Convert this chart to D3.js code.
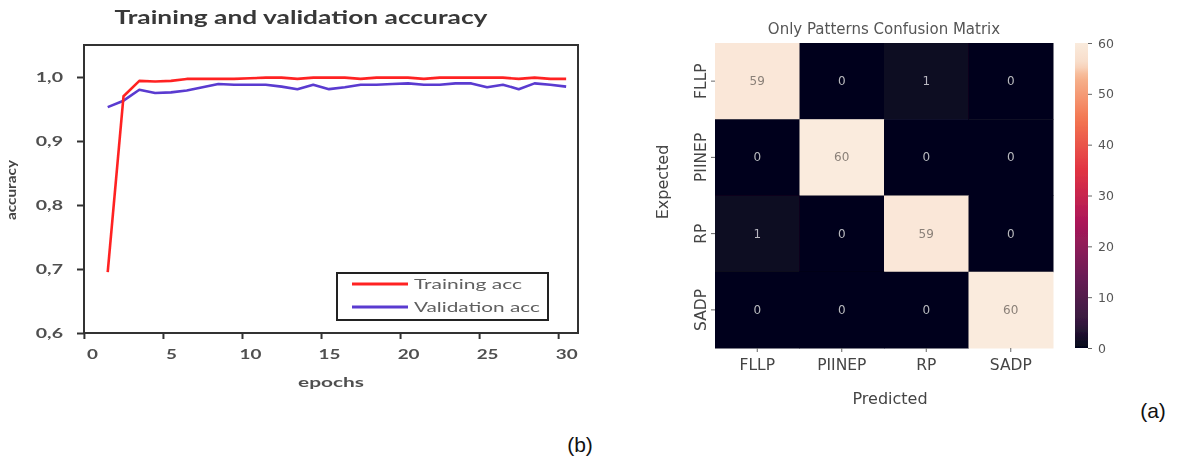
<!DOCTYPE html>
<html>
<head>
<meta charset="utf-8">
<script src="https://cdn.jsdelivr.net/npm/d3@7"></script>
<style>
  body { margin: 0; background: #fff; }
  svg { display: block; }
</style>
</head>
<body>
<svg id="chart" width="1177" height="463"></svg>
<script>
// ---- data: accuracy curves (panel b)
const epochs = d3.range(1, 31);
const trainAcc = [0.695, 0.970, 0.994, 0.993, 0.994, 0.997, 0.997, 0.997, 0.997, 0.998,
                  0.999, 0.999, 0.997, 0.999, 0.999, 0.999, 0.997, 0.999, 0.999, 0.999,
                  0.997, 0.999, 0.999, 0.999, 0.999, 0.999, 0.997, 0.999, 0.997, 0.997];
const valAcc = [0.953, 0.963, 0.980, 0.975, 0.976, 0.979, 0.984, 0.989, 0.988, 0.988,
                0.988, 0.985, 0.981, 0.988, 0.981, 0.984, 0.988, 0.988, 0.989, 0.990,
                0.988, 0.988, 0.990, 0.990, 0.984, 0.988, 0.981, 0.990, 0.988, 0.985];
const xTicks = [0, 5, 10, 15, 20, 25, 30];
const yTicks = [0.6, 0.7, 0.8, 0.9, 1.0];

// ---- data: confusion matrix (panel a)
const classes = ["FLLP", "PIINEP", "RP", "SADP"];
const matrix = [
  [59, 0, 1, 0],
  [0, 60, 0, 0],
  [1, 0, 59, 0],
  [0, 0, 0, 60]
];
const cbarTicks = [0, 10, 20, 30, 40, 50, 60];

const svg = d3.select("#chart");

// slight softening, the source image is blurry
const defs = svg.append("defs");
defs.append("filter").attr("id", "soft")
  .append("feGaussianBlur").attr("stdDeviation", 0.45);

// the left figure was stretched sideways in the source, so widen its text
const stretch = (sel, k) => sel.each(function() {
  const w = this.getComputedTextLength();
  d3.select(this).attr("textLength", w * k).attr("lengthAdjust", "spacingAndGlyphs");
});

// =================== left: training / validation accuracy
const left = svg.append("g").attr("filter", "url(#soft)");
const frame = { l: 84, r: 578, t: 45, b: 333 };
const calib = "Lato, 'Open Sans', sans-serif";

const x = d3.scaleLinear().domain([-0.5, 30.75]).range([frame.l, frame.r]);
const y = d3.scaleLinear().domain([0.6, 1.05]).range([frame.b, frame.t]);
const comma = v => d3.format(".1f")(v).replace(".", ",");

left.append("text")
  .attr("x", 301).attr("y", 24)
  .attr("text-anchor", "middle")
  .style("font-family", calib)
  .style("font-weight", "bold")
  .style("font-size", "18px")
  .attr("fill", "#383838")
  .attr("textLength", 373).attr("lengthAdjust", "spacingAndGlyphs")
  .text("Training and validation accuracy");

// x axis
const xAxis = left.append("g")
  .attr("transform", `translate(0,${frame.b})`)
  .call(d3.axisBottom(x).tickValues(xTicks).tickSize(6).tickPadding(11));
xAxis.select(".domain").remove();
xAxis.selectAll(".tick line").attr("stroke", "#333").attr("stroke-width", 2)
  .attr("transform", "translate(-8,0)");
xAxis.selectAll("text")
  .style("font-family", calib).style("font-weight", "bold")
  .style("font-size", "13px").attr("fill", "#505050")
  .call(stretch, 1.45);

// y axis
const yAxis = left.append("g")
  .attr("transform", `translate(${frame.l},0)`)
  .call(d3.axisLeft(y).tickValues(yTicks).tickFormat(comma).tickSize(7).tickPadding(14));
yAxis.select(".domain").remove();
yAxis.selectAll(".tick line").attr("stroke", "#333").attr("stroke-width", 2);
yAxis.selectAll("text")
  .style("font-family", calib).style("font-weight", "bold")
  .style("font-size", "13px").attr("fill", "#505050")
  .call(stretch, 1.5);

// frame
left.append("rect")
  .attr("x", frame.l).attr("y", frame.t)
  .attr("width", frame.r - frame.l).attr("height", frame.b - frame.t)
  .attr("fill", "none").attr("stroke", "#333").attr("stroke-width", 2);

left.append("text")
  .attr("transform", `translate(16,190) rotate(-90)`)
  .attr("text-anchor", "middle")
  .style("font-family", calib).style("font-weight", "bold")
  .style("font-size", "14px").attr("fill", "#444")
  .attr("textLength", 60).attr("lengthAdjust", "spacingAndGlyphs")
  .text("accuracy");

left.append("text")
  .attr("x", 331).attr("y", 387)
  .attr("text-anchor", "middle")
  .style("font-family", calib).style("font-weight", "bold")
  .style("font-size", "14px").attr("fill", "#505050")
  .attr("textLength", 66).attr("lengthAdjust", "spacingAndGlyphs")
  .text("epochs");

const line = d3.line().x((d, i) => x(epochs[i])).y(d => y(d));

const series = [
  { name: "Training acc", values: trainAcc, color: "#ff2424", len: 108 },
  { name: "Validation acc", values: valAcc, color: "#5a3ad0", len: 126 }
];

left.selectAll(".curve")
  .data(series.slice().reverse())
  .join("path")
  .attr("class", "curve")
  .attr("d", d => line(d.values))
  .attr("fill", "none")
  .attr("stroke", d => d.color)
  .attr("stroke-width", 2.6)
  .attr("stroke-linejoin", "round");

// legend
const lg = left.append("g");
lg.append("rect")
  .attr("x", 337).attr("y", 273).attr("width", 211).attr("height", 47)
  .attr("fill", "#fff").attr("stroke", "#222").attr("stroke-width", 2);
series.forEach((s, i) => {
  const ly = 284 + i * 23;
  lg.append("line")
    .attr("x1", 352).attr("x2", 408).attr("y1", ly).attr("y2", ly)
    .attr("stroke", s.color).attr("stroke-width", 3);
  lg.append("text")
    .attr("x", 414).attr("y", ly + 5)
    .style("font-family", calib)
    .style("font-size", "14px").attr("fill", "#606060")
    .attr("textLength", s.len).attr("lengthAdjust", "spacingAndGlyphs")
    .text(s.name);
});

svg.append("text")
  .attr("x", 580).attr("y", 452)
  .attr("text-anchor", "middle")
  .style("font-family", "'Liberation Sans', Arial, sans-serif")
  .style("font-size", "21px").attr("fill", "#111")
  .text("(b)");

// =================== right: confusion matrix heatmap
const right = svg.append("g").attr("filter", "url(#soft)");
const hm = { l: 715, r: 1053, t: 43, b: 348 };
const mpl = "'DejaVu Sans', sans-serif";

// rocket colormap, approximated
const rocketStops = [0, 0.083, 0.25, 0.417, 0.583, 0.75, 0.89, 0.93, 1];
const rocketColors = ["#03051a", "#35193e", "#701f57", "#ad1759", "#e13342", "#f37651", "#f6b48f", "#f8dcc8", "#faebdd"];
const rocket = d3.scaleLinear().domain(rocketStops).range(rocketColors).interpolate(d3.interpolateRgb);
const color = v => rocket(v / 60);

const hx = d3.scaleBand().domain(classes).range([hm.l, hm.r]);
const hy = d3.scaleBand().domain(classes).range([hm.t, hm.b]);

const cells = matrix.flatMap((row, i) => row.map((v, j) => ({ r: classes[i], c: classes[j], v })));

right.selectAll(".cell")
  .data(cells)
  .join("rect")
  .attr("class", "cell")
  .attr("x", d => hx(d.c)).attr("y", d => hy(d.r))
  .attr("width", hx.bandwidth() + 0.5).attr("height", hy.bandwidth() + 0.5)
  .attr("fill", d => color(d.v));

right.selectAll(".annot")
  .data(cells)
  .join("text")
  .attr("class", "annot")
  .attr("x", d => hx(d.c) + hx.bandwidth() / 2)
  .attr("y", d => hy(d.r) + hy.bandwidth() / 2 + 4)
  .attr("text-anchor", "middle")
  .style("font-family", mpl).style("font-size", "12px")
  .attr("fill", d => d.v > 30 ? "#8a8078" : "#b8b8c0")
  .text(d => d.v);

right.append("text")
  .attr("x", 884).attr("y", 34)
  .attr("text-anchor", "middle")
  .style("font-family", mpl).style("font-size", "15px").attr("fill", "#555")
  .text("Only Patterns Confusion Matrix");

const hxAxis = right.append("g")
  .attr("transform", `translate(0,${hm.b})`)
  .call(d3.axisBottom(hx).tickSize(4).tickPadding(7));
hxAxis.select(".domain").remove();
hxAxis.selectAll(".tick line").attr("stroke", "#666");
hxAxis.selectAll("text")
  .style("font-family", mpl).style("font-size", "15.5px").attr("fill", "#444");

const hyAxis = right.append("g")
  .attr("transform", `translate(${hm.l},0)`)
  .call(d3.axisLeft(hy).tickSize(4));
hyAxis.select(".domain").remove();
hyAxis.selectAll(".tick line").attr("stroke", "#666");
hyAxis.selectAll("text")
  .attr("transform", "rotate(-90)")
  .attr("x", 0).attr("y", -9).attr("dy", 0)
  .attr("text-anchor", "middle")
  .style("font-family", mpl).style("font-size", "15.5px").attr("fill", "#444");

right.append("text")
  .attr("transform", `translate(668,182) rotate(-90)`)
  .attr("text-anchor", "middle")
  .style("font-family", mpl).style("font-size", "16px").attr("fill", "#444")
  .text("Expected");

right.append("text")
  .attr("x", 890).attr("y", 404)
  .attr("text-anchor", "middle")
  .style("font-family", mpl).style("font-size", "16px").attr("fill", "#444")
  .text("Predicted");

// colour bar
const cb = { l: 1075, w: 13 };
const cbScale = d3.scaleLinear().domain([0, 60]).range([hm.b, hm.t]);
const grad = defs.append("linearGradient")
  .attr("id", "rocketGrad").attr("x1", 0).attr("x2", 0).attr("y1", 1).attr("y2", 0);
grad.selectAll("stop")
  .data(d3.range(0, 1.0001, 0.02))
  .join("stop")
  .attr("offset", d => d)
  .attr("stop-color", d => rocket(d));
right.append("rect")
  .attr("x", cb.l).attr("y", hm.t)
  .attr("width", cb.w).attr("height", hm.b - hm.t)
  .attr("fill", "url(#rocketGrad)");
const cbAxis = right.append("g")
  .attr("transform", `translate(${cb.l + cb.w},0)`)
  .call(d3.axisRight(cbScale).tickValues(cbarTicks).tickSize(4).tickPadding(6));
cbAxis.select(".domain").remove();
cbAxis.selectAll(".tick line").attr("stroke", "#666");
cbAxis.selectAll("text")
  .style("font-family", mpl).style("font-size", "12.5px").attr("fill", "#555");

svg.append("text")
  .attr("x", 1153).attr("y", 418)
  .attr("text-anchor", "middle")
  .style("font-family", "'Liberation Sans', Arial, sans-serif")
  .style("font-size", "21px").attr("fill", "#111")
  .text("(a)");
</script>
</body>
</html>
